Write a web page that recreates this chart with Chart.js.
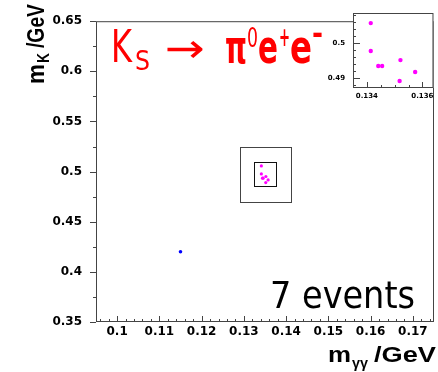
<!DOCTYPE html>
<html>
<head>
<meta charset="utf-8">
<script src="https://cdn.jsdelivr.net/npm/chart.js@4.4.1/dist/chart.umd.min.js"></script>
<style>
  html, body { margin: 0; padding: 0; background: #fff; }
  #wrap { position: relative; width: 438px; height: 372px; }
  #main { position: absolute; left: 0; top: 0; }
  #inset { position: absolute; left: 300px; top: 0; }
</style>
</head>
<body>
<div id="wrap">
  <canvas id="main" width="438" height="372"></canvas>
  <canvas id="inset" width="138" height="110"></canvas>
</div>
<script>
// selected candidates: m(gamma gamma) and m(K) in GeV
const sigMgg = [0.13414, 0.13414, 0.13441, 0.13455, 0.13521, 0.13574, 0.13518];
const sigMK  = [0.5057, 0.4977, 0.4934, 0.4934, 0.4951, 0.4917, 0.4891];
// the one event outside the signal box
const otherMgg = [0.115];
const otherMK  = [0.420];

const xTicks = [0.1, 0.11, 0.12, 0.13, 0.14, 0.15, 0.16, 0.17];
const yTicks = [0.35, 0.4, 0.45, 0.5, 0.55, 0.6, 0.65];
const insetXTicks = [0.134, 0.136];
const insetYTicks = [0.49, 0.5];

// signal region boxes drawn on the main plot [xmin, xmax, ymin, ymax]
const outerBox = [0.129, 0.1412, 0.470, 0.5244];
const innerBox = [0.1325, 0.1375, 0.486, 0.5095];

const pts = (xs, ys) => xs.map((x, i) => ({ x: x, y: ys[i] }));
const steps = (a, b, st) => { const out = []; for (let v = a; v <= b + 1e-9; v += st) out.push(+v.toFixed(6)); return out; };
const fmt = v => String(+(+v).toFixed(4));

function fitText(ctx, txt, font, x0, x1, base, color) {
  ctx.save();
  ctx.font = font;
  ctx.fillStyle = color;
  ctx.textAlign = 'left';
  ctx.textBaseline = 'alphabetic';
  const w = ctx.measureText(txt).width;
  ctx.translate(x0, base);
  ctx.scale((x1 - x0) / w, 1);
  ctx.fillText(txt, 0, 0);
  ctx.restore();
}

function tickX(chart, vals, len) {
  const s = chart.scales.x, ctx = chart.ctx, b = chart.chartArea.bottom;
  ctx.save();
  ctx.strokeStyle = '#444';
  ctx.lineWidth = 1;
  ctx.beginPath();
  vals.forEach(v => {
    const px = Math.round(s.getPixelForValue(v)) + 0.5;
    ctx.moveTo(px, b); ctx.lineTo(px, b - len);
  });
  ctx.stroke();
  ctx.restore();
}

function tickY(chart, vals, len) {
  const s = chart.scales.y, ctx = chart.ctx, l = chart.chartArea.left;
  ctx.save();
  ctx.strokeStyle = '#444';
  ctx.lineWidth = 1;
  ctx.beginPath();
  vals.forEach(v => {
    const py = Math.round(s.getPixelForValue(v)) + 0.5;
    ctx.moveTo(l, py); ctx.lineTo(l + len, py);
  });
  ctx.stroke();
  ctx.restore();
}

function frame(chart) {
  const a = chart.chartArea, ctx = chart.ctx;
  ctx.save();
  ctx.strokeStyle = '#444';
  ctx.lineWidth = 1;
  ctx.strokeRect(a.left + 0.5, a.top + 0.5, a.right - a.left - 1, a.bottom - a.top - 1);
  ctx.restore();
}

function box(chart, b, color) {
  const sx = chart.scales.x, sy = chart.scales.y, ctx = chart.ctx;
  const x0 = Math.round(sx.getPixelForValue(b[0])) + 0.5, x1 = Math.round(sx.getPixelForValue(b[1])) + 0.5;
  const y0 = Math.round(sy.getPixelForValue(b[3])) + 0.5, y1 = Math.round(sy.getPixelForValue(b[2])) + 0.5;
  ctx.save();
  ctx.strokeStyle = color;
  ctx.lineWidth = 1;
  ctx.strokeRect(x0, y0, x1 - x0, y1 - y0);
  ctx.restore();
}

const tickFont = { family: 'DejaVu Sans', size: 12, weight: 'bold' };

const mainDecor = {
  id: 'mainDecor',
  beforeDatasetsDraw(chart) {
    box(chart, outerBox, '#444');
    box(chart, innerBox, '#111');
  },
  afterDatasetsDraw(chart) {
    const ctx = chart.ctx;
    frame(chart);
    tickX(chart, steps(0.096, 0.174, 0.002), 3);
    tickX(chart, xTicks, 6);
    tickY(chart, steps(0.375, 0.625, 0.05), -3);
    tickY(chart, yTicks, -6);

    // reaction label
    const red = '#ff0000', fam = '"Comic Sans MS", "DejaVu Sans", sans-serif';
    fitText(ctx, 'K', '44px ' + fam, 111, 132, 62, red);
    fitText(ctx, 'S', '27px ' + fam, 135, 150, 70, red);
    fitText(ctx, '\u2192', '40px ' + fam, 165, 205, 62, red);
    fitText(ctx, '\u03c0', 'bold 46px ' + fam, 225, 247, 63, red);
    fitText(ctx, '0', '26px ' + fam, 247, 258, 47, red);
    fitText(ctx, 'e', 'bold 46px ' + fam, 258, 278, 63, red);
    fitText(ctx, '+', 'bold 26px ' + fam, 279, 290, 46, red);
    fitText(ctx, 'e', 'bold 46px ' + fam, 290, 312, 63, red);
    fitText(ctx, '-', 'bold 30px ' + fam, 312, 323, 44, red);

    fitText(ctx, '7 events', '38px ' + fam, 270, 415, 308, '#000');

    // x axis title  m_gg /GeV
    const af = '"Liberation Sans", Arial, sans-serif';
    fitText(ctx, 'm', 'bold 22px ' + af, 328, 351, 362, '#000');
    fitText(ctx, '\u03b3\u03b3', 'bold 15px ' + af, 352, 368, 368, '#000');
    fitText(ctx, '/GeV', 'bold 22px ' + af, 374, 436, 362, '#000');

    // y axis title  m_K /GeV (rotated)
    ctx.save();
    ctx.translate(44, 84);
    ctx.rotate(-Math.PI / 2);
    fitText(ctx, 'm', 'bold 24px ' + af, 0, 20, 0, '#000');
    fitText(ctx, 'K', 'bold 16px ' + af, 21, 31, 5, '#000');
    fitText(ctx, '/GeV', 'bold 24px ' + af, 36, 80, 0, '#000');
    ctx.restore();
  }
};

new Chart(document.getElementById('main'), {
  type: 'scatter',
  data: {
    datasets: [
      { data: pts(otherMgg, otherMK), backgroundColor: '#0000ff', borderWidth: 0, pointRadius: 1.8 },
      { data: pts(sigMgg, sigMK), backgroundColor: '#ff00ff', borderWidth: 0, pointRadius: 1.6 }
    ]
  },
  options: {
    responsive: false,
    animation: false,
    devicePixelRatio: 1,
    layout: { padding: { top: 13, right: 2, left: 0, bottom: 0 } },
    plugins: { legend: { display: false }, tooltip: { enabled: false } },
    scales: {
      x: {
        type: 'linear', min: 0.095, max: 0.175,
        grid: { display: false, drawTicks: false },
        border: { display: false },
        afterBuildTicks: s => { s.ticks = xTicks.map(v => ({ value: v })); },
        afterFit: s => { s.height = 50; },
        ticks: { font: tickFont, color: '#000', padding: 3, maxRotation: 0, autoSkip: false, callback: fmt }
      },
      y: {
        type: 'linear', min: 0.35, max: 0.65,
        grid: { display: false, drawTicks: false },
        border: { display: false },
        afterBuildTicks: s => { s.ticks = yTicks.map(v => ({ value: v })); },
        afterFit: s => { s.width = 96; },
        ticks: { font: tickFont, color: '#000', padding: 14, autoSkip: false, callback: fmt }
      }
    }
  },
  plugins: [mainDecor]
});

const insetFont = { family: 'DejaVu Sans', size: 7, weight: 'bold' };

const insetDecor = {
  id: 'insetDecor',
  beforeDatasetsDraw(chart) {
    const a = chart.chartArea;
    chart.ctx.fillStyle = '#fff';
    chart.ctx.fillRect(a.left, a.top, a.right - a.left, a.bottom - a.top);
  },
  afterDatasetsDraw(chart) {
    frame(chart);
    tickX(chart, steps(0.1335, 0.1364, 0.0005), 3);
    tickX(chart, insetXTicks, 6);
    tickY(chart, steps(0.488, 0.508, 0.002), 3);
    tickY(chart, insetYTicks, 7);
  }
};

new Chart(document.getElementById('inset'), {
  type: 'scatter',
  data: {
    datasets: [
      { data: pts(sigMgg, sigMK), backgroundColor: '#ff00ff', borderWidth: 0, pointRadius: 2.2 }
    ]
  },
  options: {
    responsive: false,
    animation: false,
    devicePixelRatio: 1,
    layout: { padding: { top: 13, right: 2, left: 0, bottom: 0 } },
    plugins: { legend: { display: false }, tooltip: { enabled: false } },
    scales: {
      x: {
        type: 'linear', min: 0.1335, max: 0.1364,
        grid: { display: false, drawTicks: false },
        border: { display: false },
        afterBuildTicks: s => { s.ticks = insetXTicks.map(v => ({ value: v })); },
        afterFit: s => { s.height = 22; },
        ticks: { font: insetFont, color: '#000', padding: 4, maxRotation: 0, autoSkip: false, callback: fmt }
      },
      y: {
        type: 'linear', min: 0.4871, max: 0.5086,
        grid: { display: false, drawTicks: false },
        border: { display: false },
        afterBuildTicks: s => { s.ticks = insetYTicks.map(v => ({ value: v })); },
        afterFit: s => { s.width = 53; },
        ticks: { font: insetFont, color: '#000', padding: 8, autoSkip: false, callback: fmt }
      }
    }
  },
  plugins: [insetDecor]
});
</script>
</body>
</html>
